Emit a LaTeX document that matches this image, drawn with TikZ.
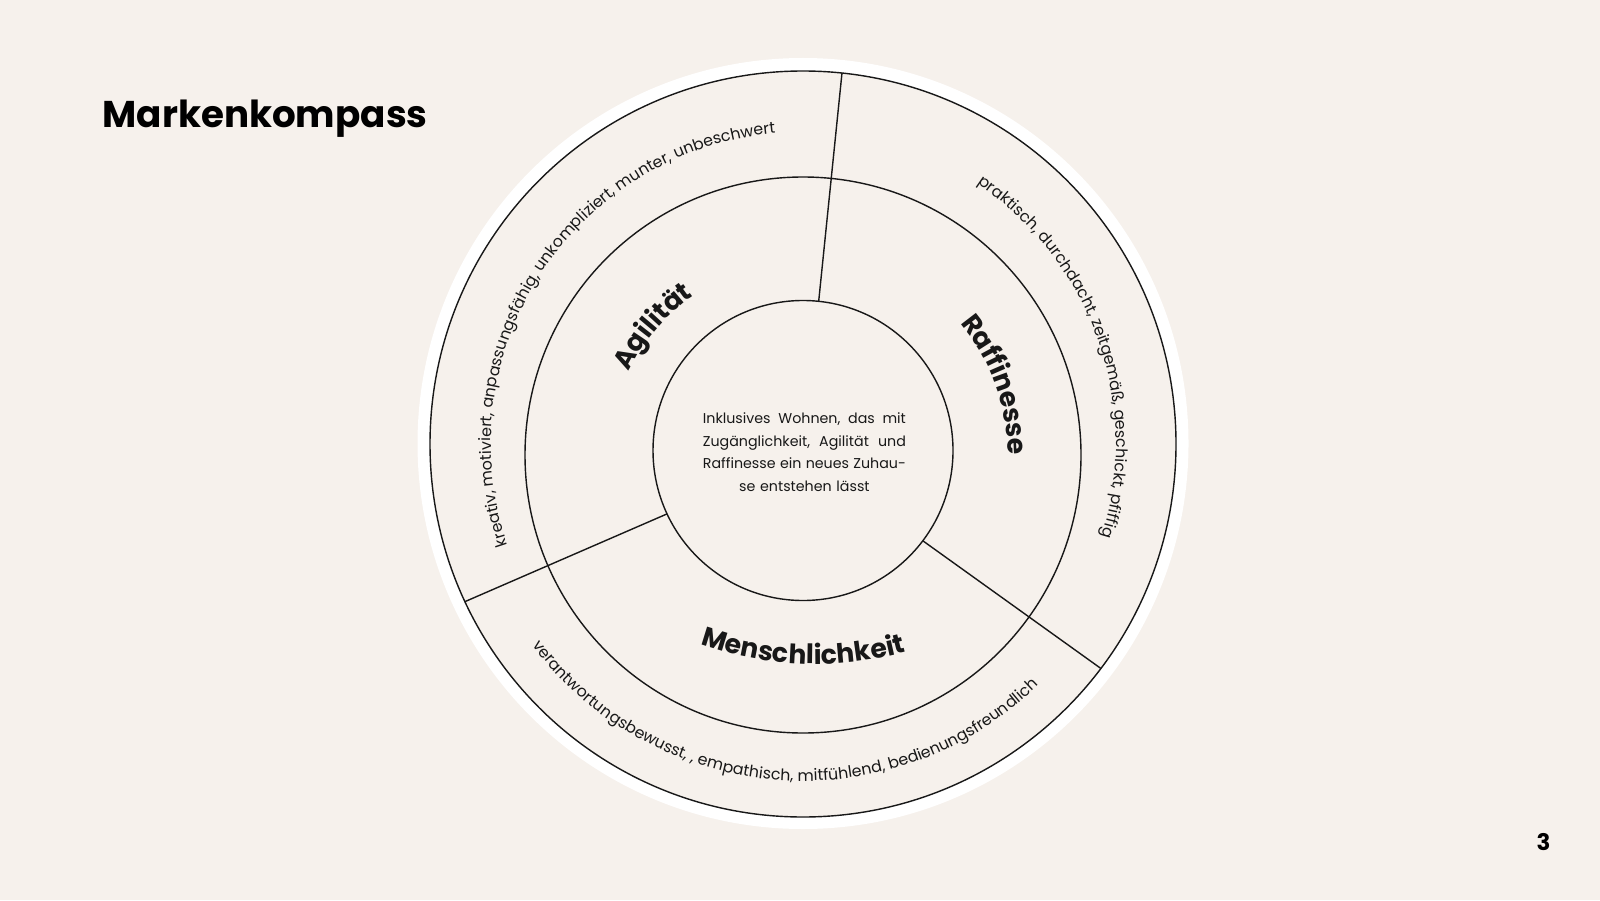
\documentclass[tikz,border=0pt]{standalone}
\usepackage{fontspec}
\setmainfont{Poppins}
\usetikzlibrary{decorations.text}
\definecolor{papier}{RGB}{246,241,236}
\definecolor{tinte}{RGB}{24,24,24}
\newcommand{\ringschrift}{\fontsize{4.5}{5.4}\selectfont}
\newcommand{\etikett}{\bfseries\fontsize{7.6}{9}\selectfont}
\tikzset{
  ring/.style={circle, draw=tinte, line width=0.4pt, inner sep=0pt, outer sep=0pt},
  teiler/.style={draw=tinte, line width=0.4pt},
  bogentext/.style={decorate, decoration={text along path, text align=center, text color=tinte, text={#1}}},
}
\begin{document}
\begin{tikzpicture}
    \useasboundingbox[fill=papier] (0,0) rectangle (16,9);
    \node[font=\bfseries\fontsize{10.6}{12}\selectfont, anchor=base west, inner sep=0pt] (titel) at (1.02, 7.723) {Markenkompass};
    \node[font=\bfseries\fontsize{6.5}{8}\selectfont, anchor=base, inner sep=0pt] (seite) at (15.435, 0.50) {3};
    % Kreise
    \coordinate (mA) at (8.03, 4.56);
    \coordinate (mB) at (8.03, 4.45);
    \coordinate (mC) at (8.03, 4.495);
    \coordinate (mD) at (8.15, 5.86);
    \node[circle, fill=white, inner sep=0pt, minimum size=7.71cm] (scheibe) at (8.03, 4.565) {};
    \node[ring, fill=papier, minimum size=7.46cm] (aussen) at (mA) {};
    \node[ring, minimum size=5.56cm] (mitte) at (mB) {};
    \node[ring, minimum size=3.0cm] (kern) at (mC) {};
    \draw[teiler] (kern.84) -- (aussen.84);
    \draw[teiler] (kern.205) -- (aussen.205);
    \draw[teiler] (kern.-37) -- (aussen.-37);
    % Leitsatz
    \node[font=\fontsize{4.05}{6.45}\selectfont, text=tinte, text width=2.03cm, align=center, inner sep=0pt] (leitsatz) at (8.044, 4.48) {%
        \makebox[\linewidth]{Inklusives\hfill Wohnen,\hfill das\hfill mit}\\
        \makebox[\linewidth]{Zugänglichkeit,\hfill Agilität\hfill und}\\
        \makebox[\linewidth]{Raffinesse\hfill ein\hfill neues\hfill Zuhau-}\\
        se entstehen lässt};
    % Werte im mittleren Ring
    \path[bogentext={|\etikett|Agilität}] (mB) ++(170:1.93) arc[start angle=170, end angle=109, radius=1.93];
    \path[bogentext={|\etikett|Raffinesse}] (mB) ++(50:2.05) arc[start angle=50, end angle=-10, radius=2.05];
    \path[bogentext={|\etikett|Menschlichkeit}] (mD) ++(-112:3.5) arc[start angle=-112, end angle=-72, radius=3.5];
    % Eigenschaften im aeusseren Ring
    \path[bogentext={|\ringschrift|kreativ, motiviert, anpassungsfähig, unkompliziert, munter, unbeschwert}] (mA) ++(217:3.12) arc[start angle=217, end angle=77, radius=3.12];
    \path[bogentext={|\ringschrift|praktisch, durchdacht, zeitgemäß, geschickt, pfiffig}] (mA) ++(75:3.13) arc[start angle=75, end angle=-36, radius=3.13];
    \path[bogentext={|\ringschrift|verantwortungsbewusst, , empathisch, mitfühlend, bedienungsfreundlich}] (mA) ++(201:3.37) arc[start angle=201, end angle=330, radius=3.37];
\end{tikzpicture}
\end{document}
